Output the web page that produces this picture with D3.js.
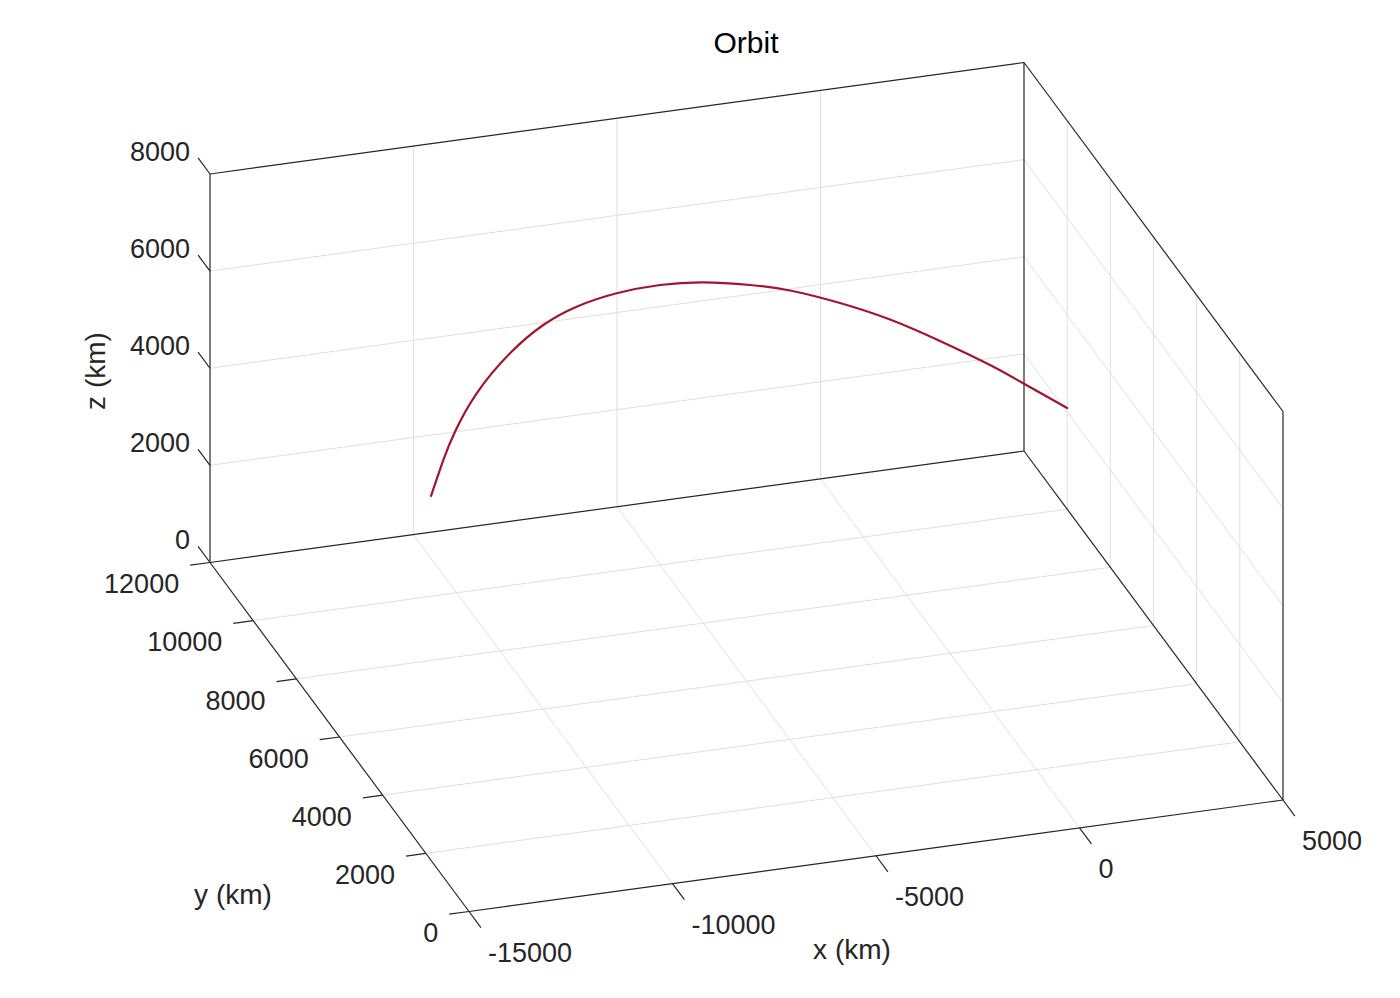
<!DOCTYPE html>
<html>
<head>
<meta charset="utf-8">
<script src="https://cdn.jsdelivr.net/npm/d3@7"></script>
<style>
  body { margin: 0; background: #fff; }
  text { font-family: "Liberation Sans", Arial, Helvetica, sans-serif; }
</style>
</head>
<body>
<svg id="chart"></svg>
<script>
// tick values (km)
const xTicks = [-15000, -10000, -5000, 0, 5000];
const yTicks = [0, 2000, 4000, 6000, 8000, 10000, 12000];
const zTicks = [0, 2000, 4000, 6000, 8000];

// orbit samples (km)
const orbitX = [-10631, -10328, -10041, -9508, -8690, -7872, -7051, -6068, -5004,
                -3940, -2793, -1810, -582, 647, 1875, 3104, 3907, 5000];
const orbitY = [10000, 10000, 10000, 10000, 10000, 10000, 10000, 10000, 10000,
                10000, 10000, 10000, 10000, 10000, 10000, 10000, 10000, 10000];
const orbitZ = [2066, 2772, 3322, 4051, 4781, 5270, 5553, 5716, 5764,
                5698, 5511, 5285, 4886, 4405, 3822, 3186, 2723, 2083];

// constants
const width = 1400;
const height = 998;
const axisColor = '#262626';
const gridColor = '#dfdfdf';
const orbitColor = '#A2142F';
const tickLen = 20;

const svg = d3.select('#chart')
  .attr('width', width)
  .attr('height', height);

// each axis maps to 0..1 along its box edge
const xScale = d3.scaleLinear().domain([-15000, 5000]).range([0, 1]);
const yScale = d3.scaleLinear().domain([0, 12000]).range([0, 1]);
const zScale = d3.scaleLinear().domain([0, 8000]).range([0, 1]);

// screen vectors of the view (orthographic, az/el as in the figure)
const origin = [469, 911.5];
const ex = [814, -111.5];
const ey = [-259, -349];
const ez = [0, -388.5];

function project(x, y, z) {
  const a = xScale(x), b = yScale(y), c = zScale(z);
  return [origin[0] + a * ex[0] + b * ey[0] + c * ez[0],
          origin[1] + a * ex[1] + b * ey[1] + c * ez[1]];
}

function unit(v) {
  const l = Math.hypot(v[0], v[1]);
  return [v[0] / l, v[1] / l];
}

const line3 = d3.line();
const [x0, x1] = xScale.domain();
const [y0, y1] = yScale.domain();
const [z0, z1] = zScale.domain();

function seg(g, a, b, color, w) {
  g.append('path')
    .attr('d', line3([project(...a), project(...b)]))
    .attr('fill', 'none')
    .attr('stroke', color)
    .attr('stroke-width', w);
}

// grid lines on the three back planes
const grid = svg.append('g');
xTicks.filter(t => t > x0 && t < x1).forEach(t => {
  seg(grid, [t, y0, z0], [t, y1, z0], gridColor, 1);   // floor
  seg(grid, [t, y1, z0], [t, y1, z1], gridColor, 1);   // back wall
});
yTicks.filter(t => t > y0 && t < y1).forEach(t => {
  seg(grid, [x0, t, z0], [x1, t, z0], gridColor, 1);   // floor
  seg(grid, [x1, t, z0], [x1, t, z1], gridColor, 1);   // right wall
});
zTicks.filter(t => t > z0 && t < z1).forEach(t => {
  seg(grid, [x0, y1, t], [x1, y1, t], gridColor, 1);   // back wall
  seg(grid, [x1, y0, t], [x1, y1, t], gridColor, 1);   // right wall
});

// box edges (back style)
const box = svg.append('g');
[
  [[x0, y0, z0], [x1, y0, z0]],
  [[x0, y0, z0], [x0, y1, z0]],
  [[x0, y1, z0], [x1, y1, z0]],
  [[x1, y0, z0], [x1, y1, z0]],
  [[x0, y1, z0], [x0, y1, z1]],
  [[x1, y1, z0], [x1, y1, z1]],
  [[x1, y0, z0], [x1, y0, z1]],
  [[x0, y1, z1], [x1, y1, z1]],
  [[x1, y0, z1], [x1, y1, z1]]
].forEach(e => seg(box, e[0], e[1], axisColor, 1.2));

// orbit
const orbit = orbitX.map((d, i) => project(d, orbitY[i], orbitZ[i]));
svg.append('path')
  .attr('d', d3.line().curve(d3.curveNatural)(orbit))
  .attr('fill', 'none')
  .attr('stroke', orbitColor)
  .attr('stroke-width', 2.2)
  .attr('stroke-linecap', 'round');

// ticks and tick labels
const ticks = svg.append('g');
function drawTicks(values, pos, dir, dx, dy, anchor) {
  const u = unit(dir);
  values.forEach(t => {
    const p = pos(t);
    const q = [p[0] + u[0] * tickLen, p[1] + u[1] * tickLen];
    ticks.append('path')
      .attr('d', line3([p, q]))
      .attr('stroke', axisColor)
      .attr('stroke-width', 1.2);
    ticks.append('text')
      .attr('x', q[0] + dx)
      .attr('y', q[1] + dy)
      .attr('text-anchor', anchor)
      .attr('font-size', 27)
      .attr('fill', axisColor)
      .text(t);
  });
}
drawTicks(xTicks, t => project(t, y0, z0), [-ey[0], -ey[1]], 7, 34, 'start');
drawTicks(yTicks, t => project(x0, t, z0), [-ex[0], -ex[1]], -11, 28, 'end');
drawTicks(zTicks, t => project(x0, y1, t), ey, -8, 3, 'end');

// axis labels
svg.append('text')
  .attr('x', 852).attr('y', 959)
  .attr('text-anchor', 'middle')
  .attr('font-size', 28)
  .attr('fill', axisColor)
  .text('x (km)');

svg.append('text')
  .attr('x', 233).attr('y', 904)
  .attr('text-anchor', 'middle')
  .attr('font-size', 28)
  .attr('fill', axisColor)
  .text('y (km)');

svg.append('text')
  .attr('transform', 'translate(105,371) rotate(-90)')
  .attr('text-anchor', 'middle')
  .attr('font-size', 28)
  .attr('fill', axisColor)
  .text('z (km)');

// title
svg.append('text')
  .attr('x', 746).attr('y', 53)
  .attr('text-anchor', 'middle')
  .attr('font-size', 30)
  .attr('fill', '#000')
  .text('Orbit');
</script>
</body>
</html>
